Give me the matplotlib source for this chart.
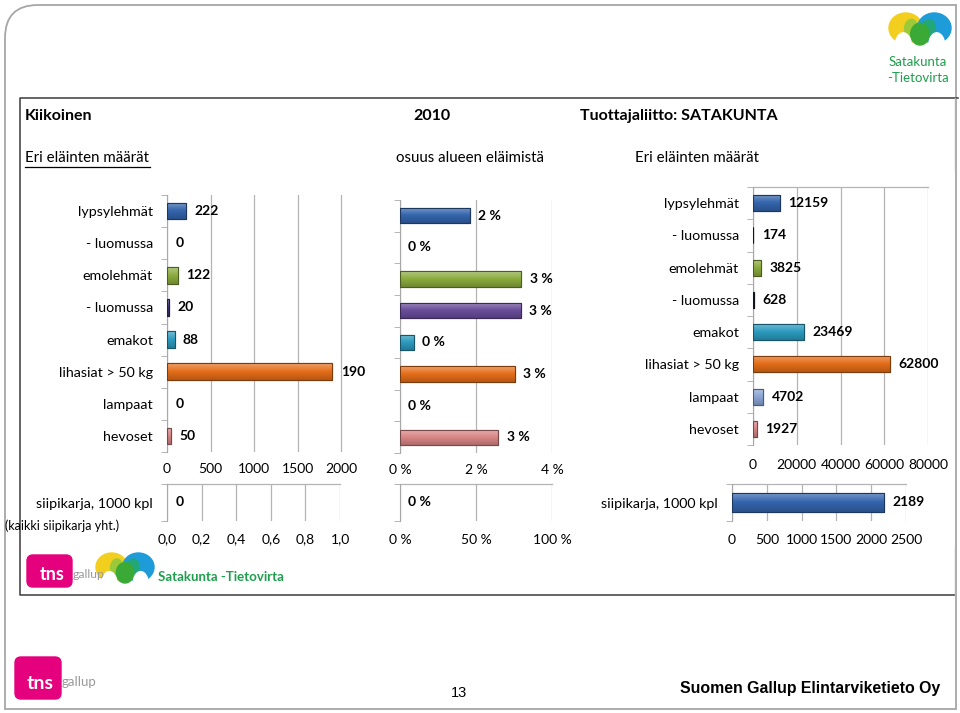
import matplotlib
matplotlib.use('Agg')
import matplotlib.pyplot as plt
import matplotlib.colors as mcolors
import numpy as np
from matplotlib.patches import Ellipse, FancyBboxPatch, PathPatch
from matplotlib.path import Path
from matplotlib.ticker import FuncFormatter

plt.rcParams['font.family'] = ['Lato', 'DejaVu Sans']

# --- data ---
animals = ['lypsylehmät', '- luomussa', 'emolehmät', '- luomussa', 'emakot',
           'lihasiat > 50 kg', 'lampaat', 'hevoset']
kunta_counts = [222, 0, 122, 20, 88, 1900, 0, 50]
share_pct = [1.83, 0, 3.19, 3.18, 0.37, 3.03, 0, 2.59]
share_labels = ['2 %', '0 %', '3 %', '3 %', '0 %', '3 %', '0 %', '3 %']
region_counts = [12159, 174, 3825, 628, 23469, 62800, 4702, 1927]

poultry = ['siipikarja, 1000 kpl']
poultry_kunta = [0]
poultry_share = [0]
poultry_region = [2189]

colors1 = ['#3465ad', '#2b2f5c', '#8bab3d', '#3b3472', '#2c9bbf', '#e46d19', '#8ba6d6', '#d98686']
colors2 = ['#3465ad', '#2b2f5c', '#8bab3d', '#6a4d9b', '#2c9bbf', '#e46d19', '#8ba6d6', '#d98686']
colors3 = ['#3465ad', '#1f2336', '#8bab3d', '#1f2336', '#2c9bbf', '#e46d19', '#8ba6d6', '#d98686']

W, H = 960, 713
fig = plt.figure(figsize=(W / 100, H / 100), dpi=100)


def box(x0, y0, x1, y1):
    return [x0 / W, 1 - y1 / H, (x1 - x0) / W, (y1 - y0) / H]


def darker(c, f=0.55):
    r, g, b = mcolors.to_rgb(c)
    return (r * f, g * f, b * f)


def lighter(c, f=0.4):
    r, g, b = mcolors.to_rgb(c)
    return (r + (1 - r) * f, g + (1 - g) * f, b + (1 - b) * f)


# overlay for frames, titles and logos (pixel coordinates)
ov = fig.add_axes([0, 0, 1, 1])
ov.set_xlim(0, W)
ov.set_ylim(H, 0)
ov.axis('off')

# slide border with the rounded top-left corner
verts = [(5, 709), (5, 38), (5, 5), (38, 5), (956, 5), (956, 709), (5, 709)]
codes = [Path.MOVETO, Path.LINETO, Path.CURVE3, Path.CURVE3, Path.LINETO, Path.LINETO, Path.CLOSEPOLY]
ov.add_patch(PathPatch(Path(verts, codes), fill=False, ec='#a6a6a6', lw=1.3))

# inner chart frame
ov.plot([958, 20, 20, 955], [98, 98, 595, 595], color='#3a3a3a', lw=1.1)
ov.plot([955, 955], [98, 170], color='#b0b0b0', lw=1)
ov.plot([955, 955], [548, 595], color='#b0b0b0', lw=1)


def m_logo(x, y, w, h):
    # two humps (yellow / blue) with a green middle leg, hollowed from below
    ov.add_patch(Ellipse((x + 0.27 * w, y + 0.47 * h), 0.54 * w, 0.94 * h, color='#f2cf1f'))
    ov.add_patch(Ellipse((x + 0.73 * w, y + 0.47 * h), 0.54 * w, 0.94 * h, color='#1e9bd9'))
    ov.add_patch(Ellipse((x + 0.36 * w, y + 0.5 * h), 0.22 * w, 0.6 * h, color='#9cc93a'))
    ov.add_patch(Ellipse((x + 0.64 * w, y + 0.5 * h), 0.22 * w, 0.6 * h, color='#22a77a'))
    ov.add_patch(Ellipse((x + 0.5 * w, y + 0.66 * h), 0.3 * w, 0.68 * h, color='#3aa935'))
    ov.add_patch(Ellipse((x + 0.23 * w, y + 1.02 * h), 0.26 * w, 0.8 * h, color='white'))
    ov.add_patch(Ellipse((x + 0.77 * w, y + 1.02 * h), 0.26 * w, 0.8 * h, color='white'))


def tns_logo(x, y, w, h, fs):
    ov.add_patch(FancyBboxPatch((x, y), w, h, boxstyle='round,pad=0,rounding_size=6',
                                color='#e5007e'))
    ov.text(x + w * 0.55, y + h * 0.62, 'tns', color='white', fontsize=fs,
            fontweight='bold', ha='center', va='center')
    ov.text(x + w + 1, y + h * 0.6, 'gallup', color='#9a9a9a', fontsize=fs * 0.68,
            ha='left', va='center')


# top-right logo
m_logo(889, 13, 62, 32)
ov.text(918, 62, 'Satakunta', color='#1f9e4d', fontsize=9.5, ha='center', va='center')
ov.text(918, 78, '-Tietovirta', color='#1f9e4d', fontsize=9.5, ha='center', va='center')

# header texts
ov.text(25, 116, 'Kiikoinen', fontsize=11.5, fontweight='bold', va='center')
ov.text(432, 116, '2010', fontsize=11.5, fontweight='bold', va='center', ha='center')
ov.text(580, 116, 'Tuottajaliitto: SATAKUNTA', fontsize=11.5, fontweight='bold', va='center')
ov.text(25, 158, 'Eri eläinten määrät', fontsize=10.8, va='center')
ov.plot([25, 150], [166.5, 166.5], color='black', lw=0.9)
ov.text(470, 158, 'osuus alueen eläimistä', fontsize=10.8, va='center', ha='center')
ov.text(697, 158, 'Eri eläinten määrät', fontsize=10.8, va='center', ha='center')
ov.text(5, 526, '(kaikki siipikarja yht.)', fontsize=9, va='center')

# bottom logos inside the frame
tns_logo(27, 555, 45, 32, 13)
m_logo(96, 553, 58, 30)
ov.text(158, 577, 'Satakunta -Tietovirta', color='#1f9e4d', fontsize=9.5,
        fontweight='bold', va='center')

# footer
tns_logo(15, 657, 46, 42, 14)
ov.text(459, 693, '13', fontsize=10.5, ha='center', va='center', family='Liberation Sans')
ov.text(940, 688, 'Suomen Gallup Elintarviketieto Oy', fontsize=11.4, fontweight='bold',
        ha='right', va='center', family='Liberation Sans')


def setup(ax, xlim, ticks, fmt, n, labels=None, padx=8, top_line=False):
    ax.set_facecolor('none')
    ax.set_xlim(*xlim)
    ax.set_ylim(n - 0.5, -0.5)
    ax.set_xticks(ticks)
    ax.xaxis.set_major_formatter(FuncFormatter(fmt))
    ax.grid(axis='x', color='#b4b4b4', lw=0.9)
    ax.set_axisbelow(True)
    for s in ['top', 'right', 'bottom']:
        ax.spines[s].set_visible(False)
    ax.spines['left'].set_color('#a8a8a8')
    ax.tick_params(axis='x', length=0, pad=padx, labelsize=10)
    ax.set_yticks(range(n))
    ax.set_yticklabels(labels if labels else [''] * n)
    ax.tick_params(axis='y', which='major', length=0, pad=10, labelsize=10.3)
    ax.set_yticks(np.arange(n + 1) - 0.5, minor=True)
    ax.tick_params(axis='y', which='minor', length=4, color='#a8a8a8', direction='out')
    if top_line:
        ax.plot([ticks[0], ticks[-1]], [-0.5, -0.5], color='#b4b4b4', lw=0.9, clip_on=False)


def bars(ax, vals, colors, labels, height=0.5, clip=False):
    y = np.arange(len(vals))
    cont = ax.barh(y, vals, height=height, color=colors,
                   edgecolor=[darker(c) for c in colors],
                   lw=[0.8 if v > 0 else 0 for v in vals], zorder=3)
    # soft top-to-bottom shading like the original 3D-look bars
    for patch, c, v in zip(cont.patches, colors, vals):
        if v <= 0:
            continue
        cmap = mcolors.LinearSegmentedColormap.from_list(
            'g', [lighter(c, 0.35), c, darker(c, 0.8)])
        grad = np.linspace(0, 1, 32).reshape(-1, 1)
        x0, yb = patch.get_x(), patch.get_y()
        im = ax.imshow(grad, cmap=cmap, aspect='auto', zorder=3.5,
                       extent=[x0, x0 + patch.get_width(), yb + patch.get_height(), yb],
                       origin='upper')
        im.set_clip_path(patch)
        ax.barh(patch.get_y() + patch.get_height() / 2, v, height=patch.get_height(),
                fill=False, edgecolor=darker(c), lw=0.8, zorder=4)
    for i, (v, lab) in enumerate(zip(vals, labels)):
        ax.annotate(lab, (v, i), xytext=(6, 0), textcoords='offset points',
                    va='center', ha='left', fontsize=10, fontweight='bold',
                    annotation_clip=False, clip_on=clip)


n = len(animals)
int_fmt = lambda v, p: f'{v:.0f}'
pct_fmt = lambda v, p: f'{v:.0f} %'

# panel 1: counts in the municipality (label of the long bar is cut off)
ax1 = fig.add_axes(box(167, 195, 365, 452))
setup(ax1, (0, 2000 * 198 / 174), [0, 500, 1000, 1500, 2000], int_fmt, n, animals)
bars(ax1, kunta_counts, colors1, [str(v) for v in kunta_counts], height=0.52, clip=True)

# panel 2: share of the region's animals
ax2 = fig.add_axes(box(400, 200, 552, 453))
setup(ax2, (0, 4), [0, 2, 4], pct_fmt, n)
bars(ax2, share_pct, colors2, share_labels, height=0.48)

# panel 3: counts in the region
ax3 = fig.add_axes(box(753, 187, 928, 445))
setup(ax3, (0, 80000), [0, 20000, 40000, 60000, 80000], int_fmt, n, animals,
      padx=10, top_line=True)
bars(ax3, region_counts, colors3, [str(v) for v in region_counts], height=0.5)

# bottom row: poultry
ax4 = fig.add_axes(box(167, 484, 340, 521))
setup(ax4, (0, 1), [0, 0.2, 0.4, 0.6, 0.8, 1.0],
      lambda v, p: f'{v:.1f}'.replace('.', ','), 1, poultry, padx=9, top_line=True)
bars(ax4, poultry_kunta, ['#3465ad'], ['0'], height=0.52)

ax5 = fig.add_axes(box(400, 484, 552, 521))
setup(ax5, (0, 1), [0, 0.5, 1.0], lambda v, p: f'{v * 100:.0f} %', 1, padx=9, top_line=True)
bars(ax5, poultry_share, ['#3465ad'], ['0 %'], height=0.52)

ax6 = fig.add_axes(box(732, 484, 906, 521))
setup(ax6, (0, 2500), [0, 500, 1000, 1500, 2000, 2500], int_fmt, 1, poultry,
      padx=9, top_line=True)
bars(ax6, poultry_region, ['#3465ad'], [str(v) for v in poultry_region], height=0.52)

fig.savefig('out.png', dpi=100)
